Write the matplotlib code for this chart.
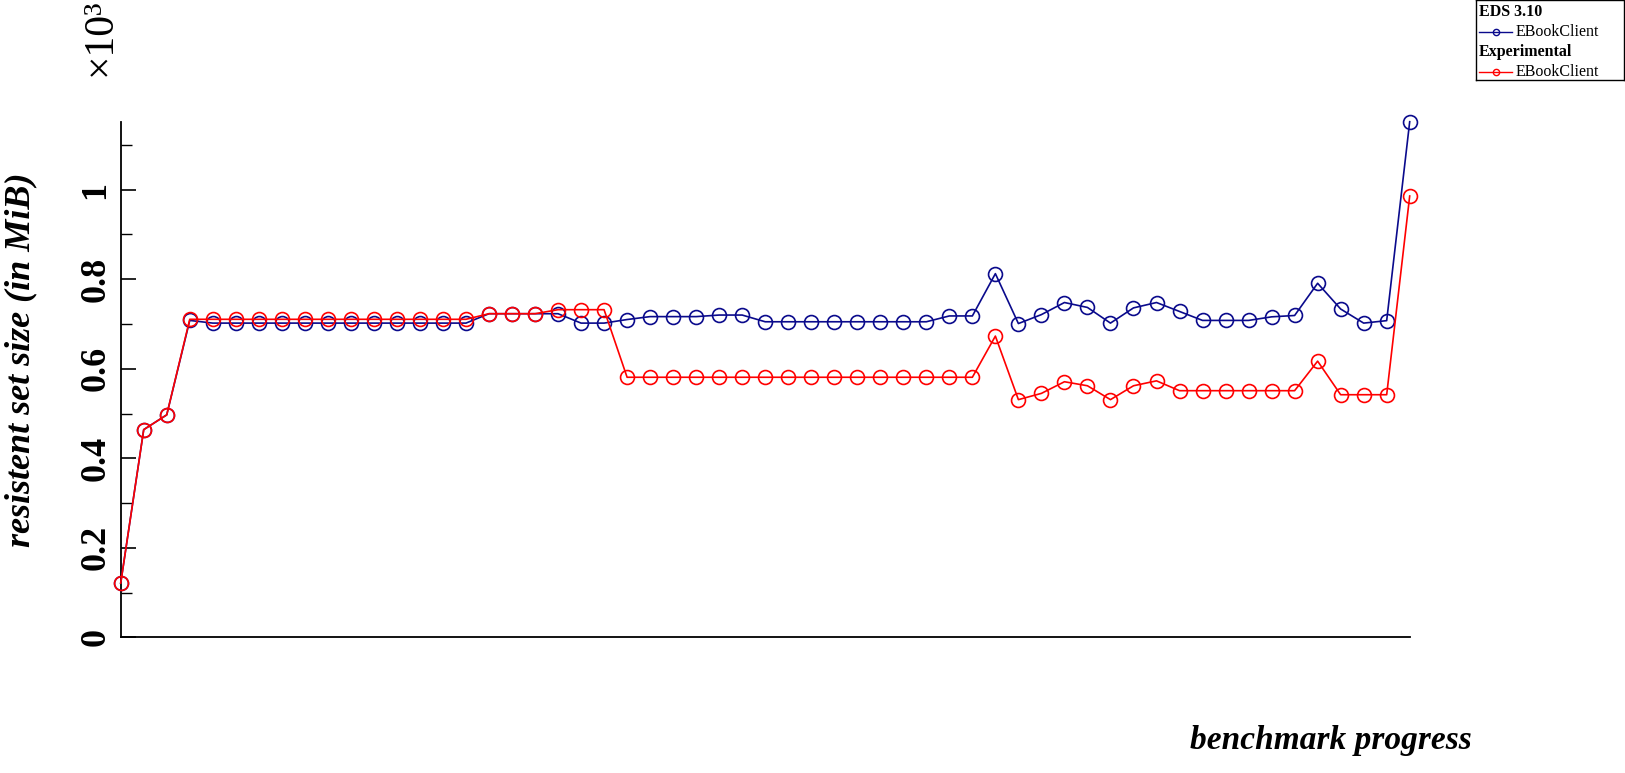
import matplotlib
matplotlib.use("Agg")
import matplotlib.pyplot as plt
from matplotlib.lines import Line2D
import numpy as np

# ---- data (values in thousands of MiB) ----
eds_310 = ([0.121, 0.464, 0.497, 0.708] + [0.702] * 12 + [0.723] * 4 +
           [0.702, 0.702, 0.710, 0.7165, 0.7165, 0.7165, 0.720, 0.720] +
           [0.705] * 8 + [0.718, 0.718, 0.8125, 0.701, 0.721, 0.748, 0.737,
                          0.702, 0.736, 0.748, 0.728, 0.708, 0.708, 0.708,
                          0.716, 0.719, 0.791, 0.7335, 0.702, 0.7075, 1.152])
experimental = ([0.121, 0.464, 0.497] + [0.7105] * 13 + [0.723] * 3 +
                [0.732] * 3 + [0.581] * 16 +
                [0.673, 0.531, 0.545, 0.571, 0.562, 0.531, 0.562, 0.573] +
                [0.551] * 6 + [0.617, 0.542, 0.542, 0.542, 0.986])
series_names = ["EDS 3.10", "Experimental"]
client_label = "EBookClient"
ytick_values = [0, 0.2, 0.4, 0.6, 0.8, 1.0]
ytick_labels = ["0", "0.2", "0.4", "0.6", "0.8", "1"]

blue = "#0a0a8c"
red = "#ff0000"

plt.rcParams["font.family"] = ["Liberation Serif", "DejaVu Serif"]

W, H = 1625, 773
fig = plt.figure(figsize=(W / 100, H / 100), dpi=100)
ax = fig.add_axes([120.7 / W, 1 - 637.3 / H, (1409.7 - 120.7) / W, (637.3 - 121.7) / H])

x = np.arange(len(eds_310))
ax.plot(x, eds_310, color=blue, lw=1.2, marker="o", ms=10, mfc="none", mec=blue,
        mew=1.2, clip_on=False, zorder=3)
ax.plot(x, experimental, color=red, lw=1.2, marker="o", ms=10, mfc="none", mec=red,
        mew=1.2, clip_on=False, zorder=4)

ax.set_xlim(0, len(eds_310) - 1)
ax.set_ylim(0, max(eds_310))
for s in ["top", "right"]:
    ax.spines[s].set_visible(False)
for s in ["left", "bottom"]:
    ax.spines[s].set_linewidth(1.3)
ax.set_xticks([])
ax.set_yticks(ytick_values)
ax.set_yticklabels(ytick_labels)
ax.set_yticks(np.arange(0.1, 1.15, 0.2), minor=True)
ax.tick_params(axis="y", which="major", direction="in", length=11, width=1.2,
               labelsize=26, labelrotation=90, pad=6)
ax.tick_params(axis="y", which="minor", direction="in", length=8, width=1.0)
for lab in ax.get_yticklabels():
    lab.set_va("center")
    lab.set_fontweight("bold")

fig.text(100 / W, 1 - 76 / H, "×10³", rotation=90, ha="center", va="bottom", fontsize=30)
fig.text(21 / W, 1 - 360 / H, "resistent set size (in MiB)", rotation=90, ha="center",
         va="center", fontsize=26, style="italic", weight="bold")
fig.text(1331 / W, 1 - 740 / H, "benchmark progress", ha="center", va="center",
         fontsize=24, style="italic", weight="bold")

# ---- legend box ----
lx0, lx1, ly0, ly1 = 1476, 1624, 0, 80
lax = fig.add_axes([lx0 / W, 1 - ly1 / H, (lx1 - lx0) / W, (ly1 - ly0) / H])
lax.set_xlim(0, lx1 - lx0)
lax.set_ylim(ly1 - ly0, 0)
lax.set_xticks([])
lax.set_yticks([])
for s in lax.spines.values():
    s.set_linewidth(1.0)
    s.set_color("black")
rows = [(series_names[0], None, 11.7), (client_label, blue, 32),
        (series_names[1], None, 52), (client_label, red, 72)]
for text, col, yy in rows:
    if col is None:
        lax.text(3, yy, text, fontsize=11.5, weight="bold", va="center", ha="left")
    else:
        lax.add_line(Line2D([3, 36], [yy, yy], color=col, lw=1.0))
        lax.plot([19.5], [yy], marker="o", ms=4.5, mfc="none", mec=col, mew=1.0)
        lax.text(40, yy, text, fontsize=11.5, va="center", ha="left")

fig.savefig("out.png", dpi=100)
